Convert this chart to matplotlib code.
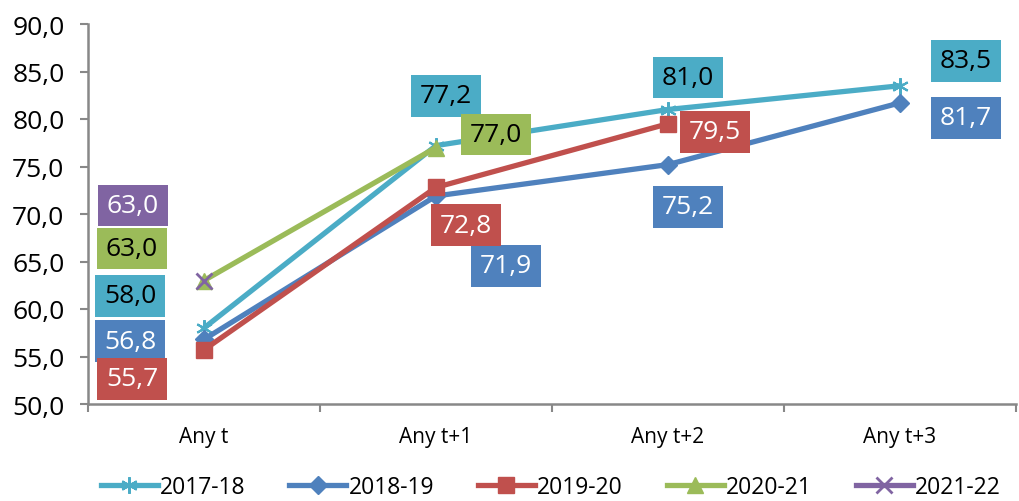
import numpy as np
import matplotlib
matplotlib.use("Agg")
import matplotlib.pyplot as plt

plt.rcParams['font.family'] = ['Open Sans', 'DejaVu Sans']

categories = ["Any t", "Any t+1", "Any t+2", "Any t+3"]
series_names = ["2017-18", "2018-19", "2019-20", "2020-21", "2021-22"]
v_2017_18 = [58.0, 77.2, 81.0, 83.5]
v_2018_19 = [56.8, 71.9, 75.2, 81.7]
v_2019_20 = [55.7, 72.8, 79.5, np.nan]
v_2020_21 = [63.0, 77.0, np.nan, np.nan]
v_2021_22 = [63.0, np.nan, np.nan, np.nan]
y_ticks = [50, 55, 60, 65, 70, 75, 80, 85, 90]

values = [v_2017_18, v_2018_19, v_2019_20, v_2020_21, v_2021_22]
colors = ["#4BACC6", "#4F81BD", "#C0504D", "#9BBB59", "#8064A2"]
text_colors = ["black", "white", "white", "black", "white"]
markers = [(6, 2, 0), "D", "s", "^", "x"]
msizes = [12, 9, 12, 12, 12]
mew = [1.5, 1, 1, 1, 2]

# label offsets in pixels (dx, dy up positive) per series per point
offsets = [
    [(-74, 32), (10, 50), (20, 32), (66, 25)],
    [(-74, -2), (70, -70), (20, -42), (66, -15)],
    [(-72, -29), (30, -38), (47, -8), None],
    [(-72, 32), (60, 13), None, None],
    [(-71, 75), None, None, None],
]

fig = plt.figure(figsize=(10.2, 5.02), dpi=100)
ax = fig.add_axes([88/1020, 1-405/502, (1016-88)/1020, (405-25)/502])

x = np.arange(len(categories))
handles = []
for i, (name, vals) in enumerate(zip(series_names, values)):
    h, = ax.plot(x, vals, color=colors[i], lw=3.8, marker=markers[i], ms=msizes[i],
                 mew=mew[i], mec=colors[i], mfc=colors[i], label=name, zorder=3+i*0.1)
    handles.append(h)
    for j, v in enumerate(vals):
        if np.isnan(v) or offsets[i][j] is None:
            continue
        dx, dy = offsets[i][j]
        ax.annotate(f"{v:.1f}".replace(".", ","), (x[j], v), xytext=(dx, dy),
                    textcoords="offset pixels", ha="center", va="center",
                    fontsize=19, color=text_colors[i], zorder=10,
                    bbox=dict(boxstyle="square,pad=0.32", fc=colors[i], ec="none"))

ax.set_xlim(-0.5, len(categories) - 0.5)
ax.set_ylim(50, 90)
ax.set_yticks(y_ticks)
ax.set_yticklabels([f"{t:.1f}".replace(".", ",") for t in y_ticks], fontsize=19)
ax.set_xticks(x)
ax.set_xticklabels(categories, fontsize=15)
ax.set_xticks(np.arange(len(categories) + 1) - 0.5, minor=True)
ax.tick_params(axis='x', which='major', length=0, pad=16)
ax.tick_params(axis='x', which='minor', length=6, width=1.5, color="#888888")
ax.tick_params(axis='y', length=6, width=1.5, color="#888888", pad=11)
for s in ["top", "right"]:
    ax.spines[s].set_visible(False)
for s in ["left", "bottom"]:
    ax.spines[s].set_color("#888888")
    ax.spines[s].set_linewidth(1.8)

fig.legend(handles=handles, loc="center", bbox_to_anchor=(0.54, 1-488/502), ncol=5,
           frameon=False, fontsize=16.5, handlelength=2.5, handletextpad=0.1,
           columnspacing=1.9, borderaxespad=0)

fig.savefig("out.png", dpi=100)
